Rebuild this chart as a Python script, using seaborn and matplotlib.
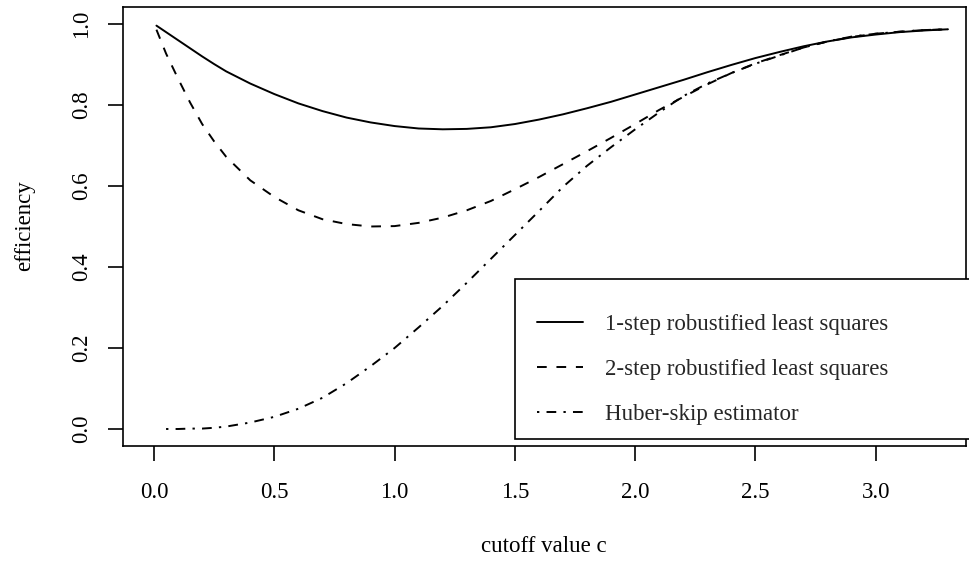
import numpy as np
import pandas as pd
import matplotlib
matplotlib.use("Agg")
import matplotlib.pyplot as plt
from matplotlib.patches import Rectangle
import seaborn as sns

# ---- data ----
c = [0.01, 0.05, 0.10, 0.15, 0.20, 0.25, 0.30, 0.40, 0.50, 0.60, 0.70, 0.80,
     0.90, 1.00, 1.10, 1.20, 1.30, 1.40, 1.50, 1.60, 1.70, 1.80, 1.90, 2.00,
     2.10, 2.20, 2.30, 2.40, 2.50, 2.60, 2.70, 2.80, 2.90, 3.00, 3.10, 3.20, 3.30]
one_step = [0.996, 0.980, 0.960, 0.940, 0.920, 0.901, 0.883, 0.853, 0.827, 0.804,
            0.785, 0.769, 0.757, 0.748, 0.742, 0.740, 0.741, 0.745, 0.753, 0.764,
            0.777, 0.792, 0.808, 0.826, 0.844, 0.862, 0.881, 0.899, 0.916, 0.931,
            0.945, 0.957, 0.967, 0.974, 0.980, 0.984, 0.987]
two_step = [0.986, 0.927, 0.865, 0.806, 0.753, 0.710, 0.672, 0.614, 0.573, 0.540,
            0.518, 0.506, 0.500, 0.501, 0.509, 0.522, 0.540, 0.563, 0.592, 0.622,
            0.654, 0.686, 0.719, 0.753, 0.788, 0.820, 0.851, 0.879, 0.903, 0.923,
            0.942, 0.957, 0.968, 0.976, 0.981, 0.985, 0.987]
huber = [np.nan, 0.000, 0.000, 0.001, 0.001, 0.003, 0.006, 0.016, 0.030, 0.050,
         0.077, 0.113, 0.155, 0.200, 0.251, 0.304, 0.361, 0.420, 0.479, 0.538,
         0.598, 0.650, 0.696, 0.740, 0.782, 0.822, 0.853, 0.879, 0.902, 0.922,
         0.942, 0.957, 0.969, 0.976, 0.981, 0.985, 0.987]
series_names = ["1-step robustified least squares",
                "2-step robustified least squares",
                "Huber-skip estimator"]
x_ticks = [0.0, 0.5, 1.0, 1.5, 2.0, 2.5, 3.0]
y_ticks = [0.0, 0.2, 0.4, 0.6, 0.8, 1.0]

df = pd.DataFrame({"c": c, series_names[0]: one_step,
                   series_names[1]: two_step, series_names[2]: huber})
long = df.melt(id_vars="c", var_name="series", value_name="eff").dropna()

sns.set_theme(style="white")
plt.rcParams["font.family"] = ["Liberation Serif", "DejaVu Serif"]
plt.rcParams["axes.edgecolor"] = "black"

W, H = 969, 562
FS = 16.5
fig = plt.figure(figsize=(W / 100, H / 100), dpi=100)
ax = fig.add_axes([123 / W, 1 - 446 / H, (966 - 123) / W, (446 - 7) / H])

LW = 1.4
dash_map = {series_names[0]: "",
            series_names[1]: (5.0, 5.0),
            series_names[2]: (1.2, 3.7, 5.0, 3.7)}
sns.lineplot(data=long, x="c", y="eff", style="series", style_order=series_names,
             dashes=dash_map, color="black", linewidth=LW, legend=False, ax=ax,
             sort=False)

ax.set_xlim(-0.129, 3.375)
ax.set_ylim(-0.042, 1.042)
ax.set_xticks(x_ticks)
ax.set_xticklabels([f"{v:.1f}" for v in x_ticks])
ax.set_yticks(y_ticks)
ax.set_yticklabels([f"{v:.1f}" for v in y_ticks])
for s in ax.spines.values():
    s.set_visible(True)
    s.set_color("black")
    s.set_linewidth(1.2)
ax.tick_params(axis="both", which="major", direction="out", length=10.5,
               width=1.2, color="black", labelsize=FS, labelcolor="black",
               bottom=True, left=True)
ax.tick_params(axis="x", pad=15.5)
ax.tick_params(axis="y", pad=12, labelrotation=90)
for lab in ax.get_yticklabels():
    lab.set_va("center")
ax.set_xlabel("")
ax.set_ylabel("")
fig.text(544 / W, 1 - 546 / H, "cutoff value c", ha="center", va="center",
         fontsize=FS, color="black")
fig.text(25 / W, 1 - 226 / H, "efficiency", ha="center", va="center",
         rotation=90, fontsize=FS, color="black")

# legend box (white, framed) extending past the right edge, as in the reference
box = Rectangle((515 / W, 1 - 439 / H), (1010 - 515) / W, (439 - 279) / H,
                transform=fig.transFigure, facecolor="white", edgecolor="black",
                linewidth=1.2, zorder=3, clip_on=False)
fig.patches.append(box)

handles = ax.get_lines()[:3]
leg = fig.legend(handles, series_names, loc="center left",
                 bbox_to_anchor=(537 / W, 1 - 369.5 / H),
                 bbox_transform=fig.transFigure,
                 borderaxespad=0, borderpad=0, labelspacing=1.06,
                 handlelength=2.0, handletextpad=0.95, fontsize=FS,
                 frameon=False)
leg.set_zorder(4)

fig.savefig("out.png", dpi=100)
